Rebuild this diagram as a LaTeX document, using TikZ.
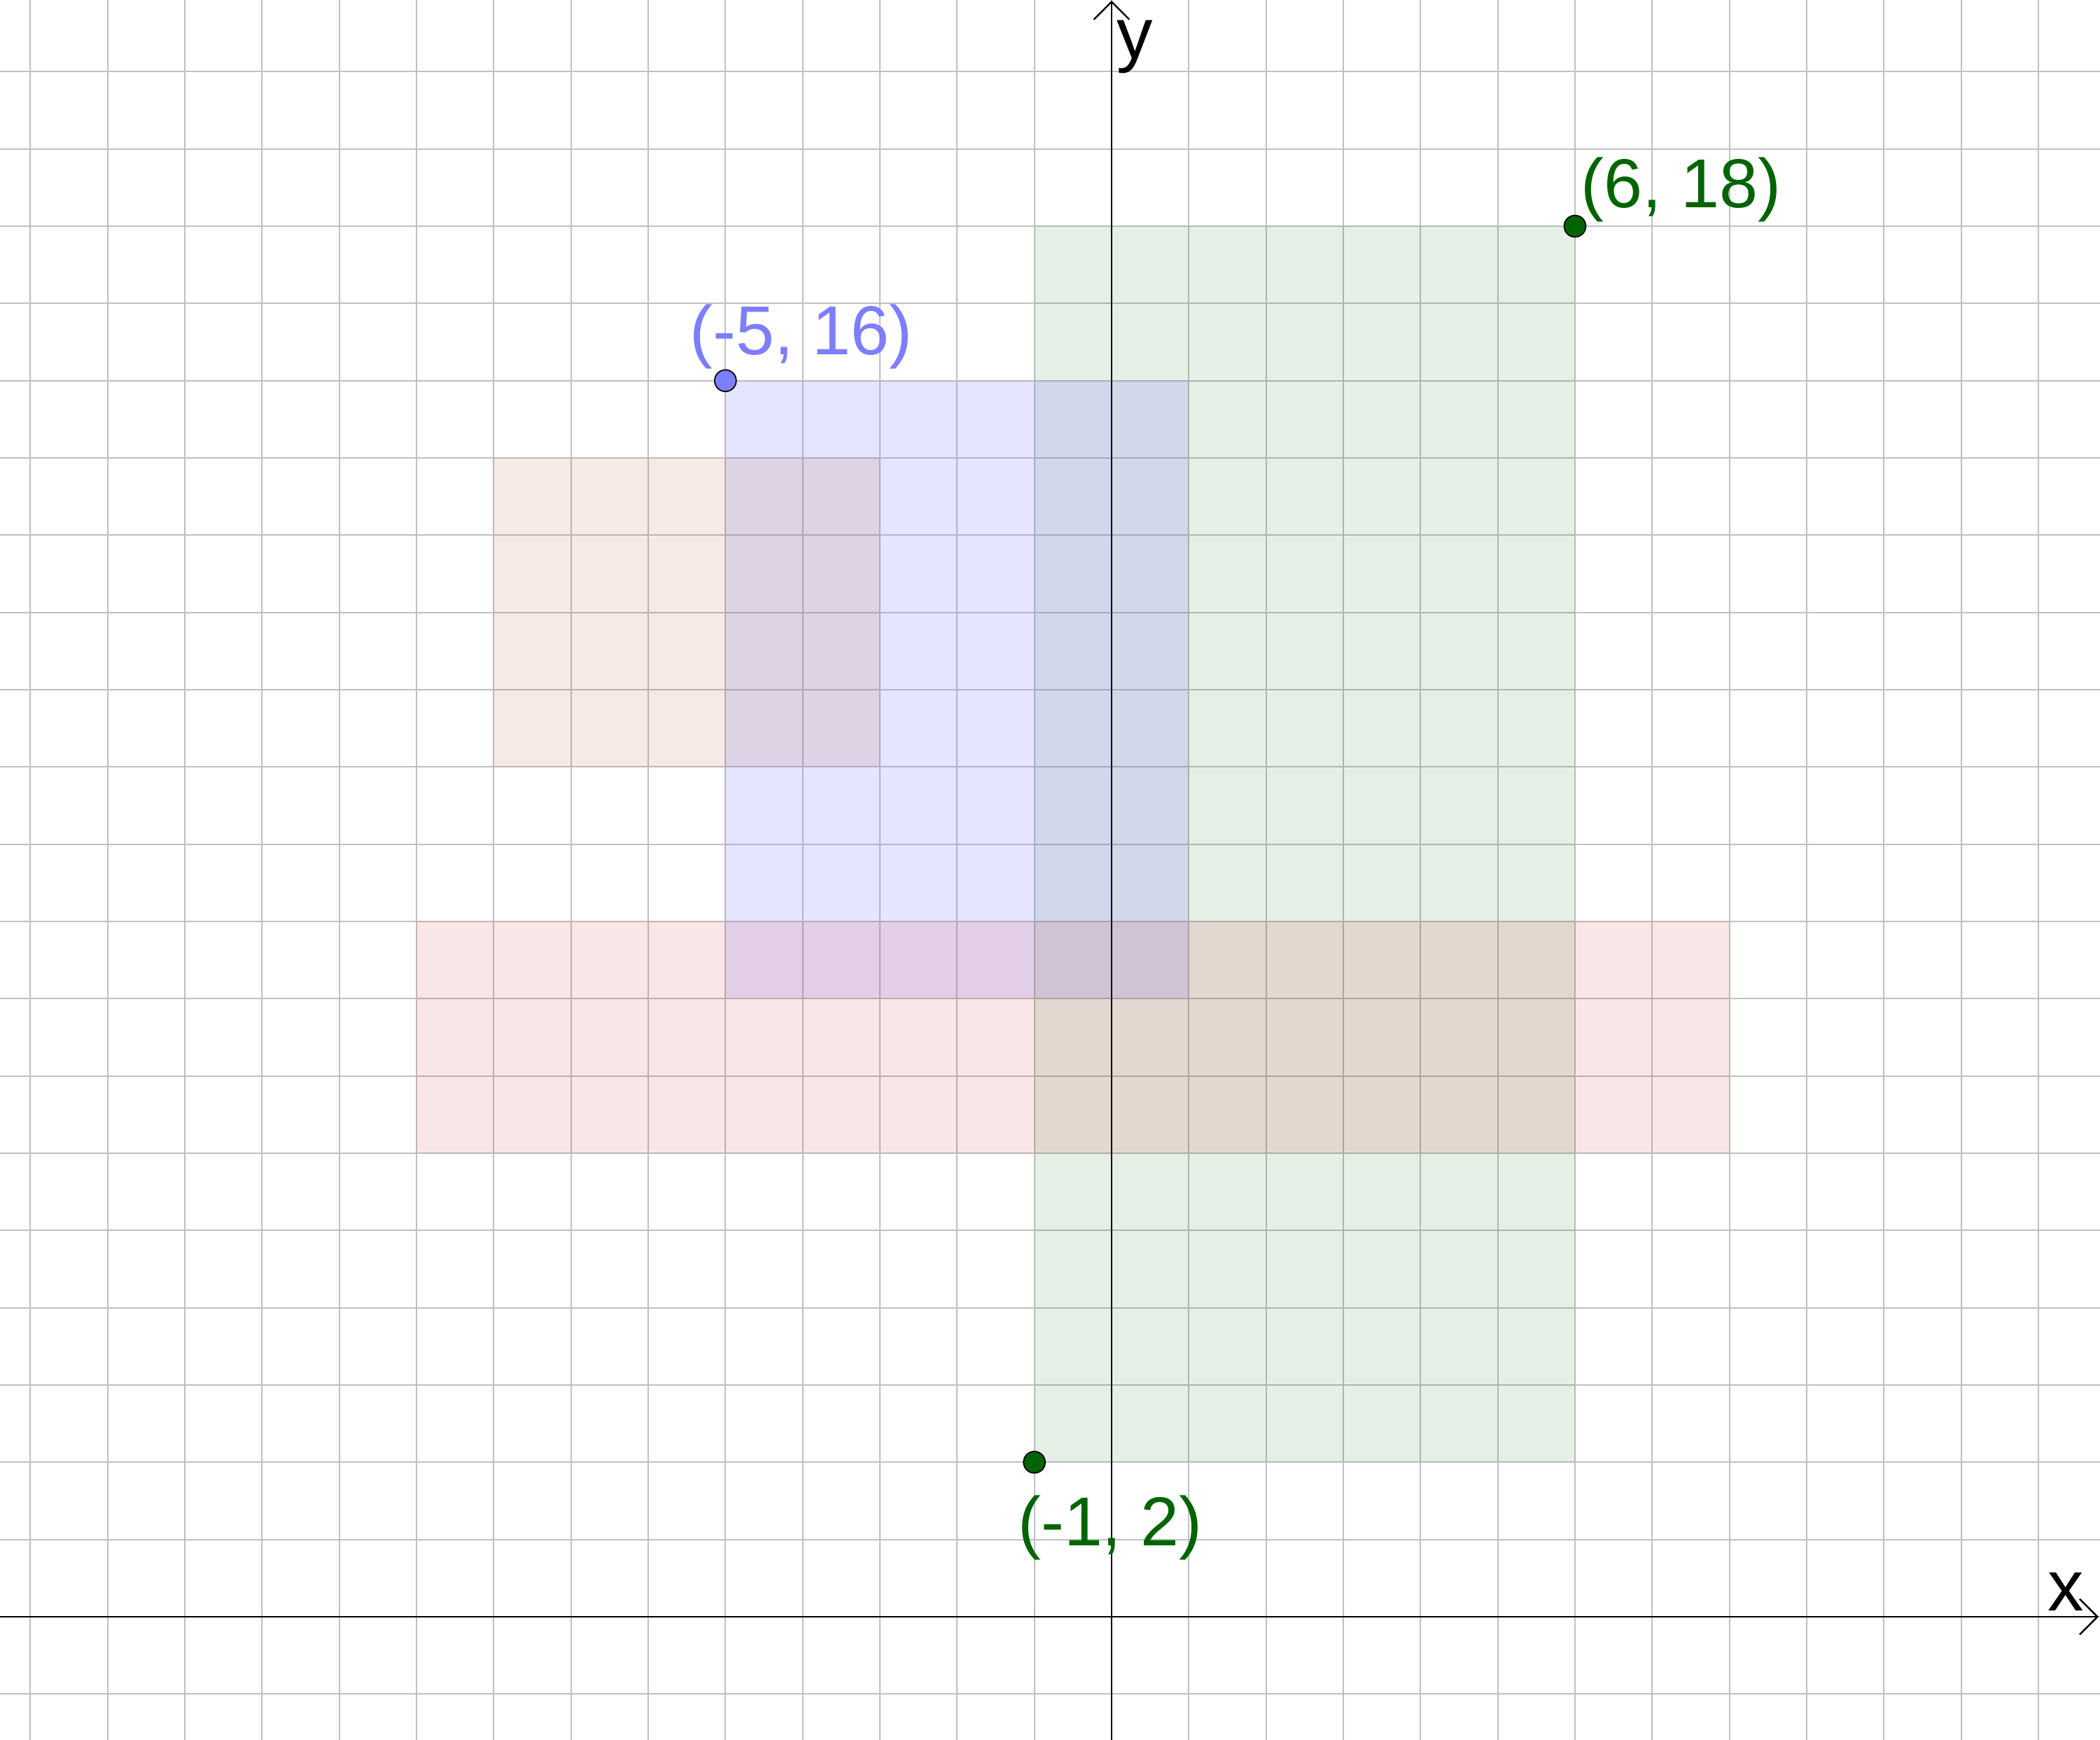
\documentclass[tikz,border=0pt]{standalone}
\usepackage{fontspec}
\setmainfont{Liberation Sans}
\usepackage{tikz}
\usetikzlibrary{arrows.meta,positioning,calc}
\usepackage{xcolor}
\definecolor{ggbgreen}{RGB}{0,100,0}
\definecolor{ggbblue}{RGB}{125,125,255}
\definecolor{ggbbrown}{RGB}{153,51,0}
\definecolor{ggbpink}{RGB}{200,30,40}
\definecolor{gridgray}{RGB}{192,192,192}

\begin{document}
\begin{tikzpicture}[
    gridline/.style={draw=gridgray, line width=0.55pt},
    axis/.style={draw=black, line width=0.75pt, -{Straight Barb[length=0.23cm, width=0.46cm, line width=0.6pt]}},
    pt/.style={circle, draw=black, line width=0.45pt, minimum size=0.28cm, inner sep=0pt},
    lbl/.style={font=\fontsize{25.5}{30}\selectfont, inner sep=0pt, anchor=base west},
    axlbl/.style={font=\fontsize{26.5}{30}\selectfont, inner sep=0pt, anchor=base west}
]
\useasboundingbox (-14.393,-1.595) rectangle (12.798,20.928);

% grid
\draw[gridline] (-14.393,-1.595) grid (12.798,20.928);

% shaded rectangles
\fill[ggbgreen, fill opacity=0.1] (-1,2) rectangle (6,18);
\fill[ggbblue, fill opacity=0.2] (-5,8) rectangle (1,16);
\fill[ggbbrown, fill opacity=0.1] (-8,11) rectangle (-3,15);
\fill[ggbpink, fill opacity=0.11] (-9,6) rectangle (8,9);

% axes
\coordinate (xstart) at (-14.393,0);
\coordinate (xend) at (12.78,0);
\coordinate (ystart) at (0,-1.595);
\coordinate (yend) at (0,20.92);
\draw[axis] (xstart) -- (xend);
\draw[axis] (ystart) -- (yend);
\node[axlbl] (xlab) at (12.12,0.08) {x};
\node[axlbl] (ylab) at (0.06,20.17) {y};

% points
\node[pt, fill=ggbgreen] (ptTop) at (6,18) {};
\node[pt, fill=ggbblue] (ptMid) at (-5,16) {};
\node[pt, fill=ggbgreen] (ptLow) at (-1,2) {};

\node[lbl, text=ggbgreen, xshift=0.07cm, yshift=0.24cm] (labTop) at (ptTop.center) {(6, 18)};
\node[lbl, text=ggbblue, xshift=-0.47cm, yshift=0.34cm] (labMid) at (ptMid.center) {(-5, 16)};
\node[lbl, text=ggbgreen, xshift=-0.22cm, yshift=-1.08cm] (labLow) at (ptLow.center) {(-1, 2)};
\end{tikzpicture}
\end{document}
